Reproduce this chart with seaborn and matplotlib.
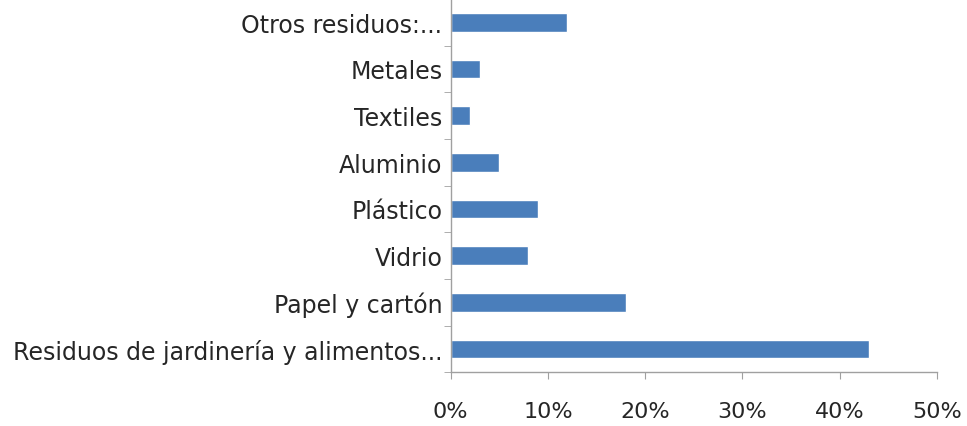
import numpy as np
import pandas as pd
import matplotlib.pyplot as plt
import seaborn as sns
from matplotlib.ticker import PercentFormatter

# Waste composition (share of total, %)
categories = ["Otros residuos:...", "Metales", "Textiles", "Aluminio", "Plástico",
              "Vidrio", "Papel y cartón", "Residuos de jardinería y alimentos..."]
shares = [12, 3, 2, 5, 9, 8, 18, 43]

data = pd.DataFrame({"Categoria": categories, "Porcentaje": shares})

sns.set_style("white")
plt.rcParams["font.family"] = ["DejaVu Sans"]

fig = plt.figure(figsize=(9.67, 4.27), dpi=100)
ax = fig.add_axes([0.466, 0.126, 0.503, 0.874])

sns.barplot(data=data, x="Porcentaje", y="Categoria", orient="h",
            color="#4A7EBB", width=0.4, saturation=1, ax=ax)

ax.set_xlim(0, 50)
ax.set_ylim(len(categories) - 0.5, -0.5)
ax.set_xticks(range(0, 51, 10))
ax.xaxis.set_major_formatter(PercentFormatter(decimals=0))
ax.set_xlabel("")
ax.set_ylabel("")

# ticks between categories, like the spreadsheet original
ax.set_yticks(np.arange(-0.5, len(categories), 1), minor=True)
ax.tick_params(axis="y", which="major", length=0, pad=6, labelsize=17, labelcolor="#262626")
ax.tick_params(axis="y", which="minor", length=5, color="#a0a0a0", left=True)
ax.tick_params(axis="x", which="major", length=5, color="#a0a0a0", bottom=True,
               pad=16, labelsize=16, labelcolor="#262626")

sns.despine(ax=ax, top=True, right=True)
for side in ["left", "bottom"]:
    ax.spines[side].set_color("#a0a0a0")
    ax.spines[side].set_linewidth(1)

fig.savefig("out.png", dpi=100)
